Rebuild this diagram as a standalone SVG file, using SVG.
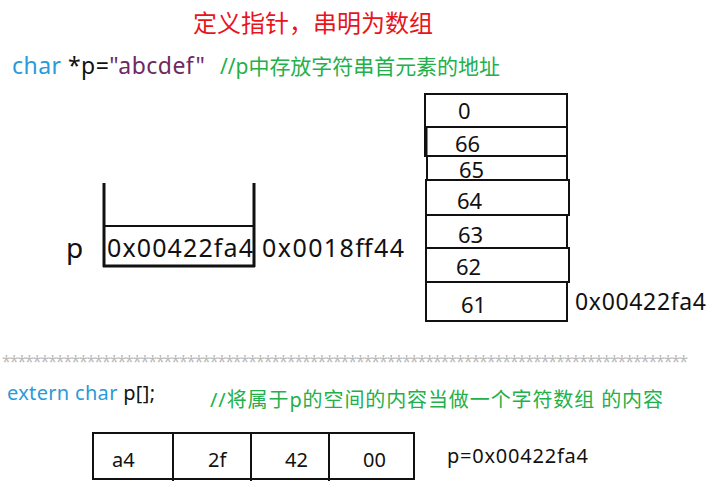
<svg xmlns="http://www.w3.org/2000/svg" width="716" height="500" viewBox="0 0 716 500">
<style>
text{font-family:"Noto Sans","Noto Sans CJK SC",sans-serif;}
.t{fill:#111;}
.blue{fill:#2a9ad8;}
.green{fill:#22b04a;}
.purple{fill:#6e2a5f;}
.box{fill:none;stroke:#111;stroke-width:2;}
.thick{stroke:#111;stroke-width:3;fill:none;}
</style>
<rect width="716" height="500" fill="#fff"/>
<g id="title">
<text x="193" y="32" font-size="24" fill="#e8141b" font-family="Noto Sans CJK SC, sans-serif">定义指针，串明为数组</text>
</g>
<g id="code1">
<text x="12" y="74" font-size="23" textLength="193"><tspan class="blue">char</tspan><tspan class="t"> *p=</tspan><tspan class="purple">"abcdef"</tspan></text>
<text x="220" y="74" font-size="21" class="green" textLength="280">//p中存放字符串首元素的地址</text>
</g>
<g id="pointer-box">
<line class="thick" x1="104" y1="183" x2="104" y2="267"/>
<line class="thick" x1="254" y1="183" x2="254" y2="267"/>
<line x1="104" y1="226" x2="254" y2="226" stroke="#111" stroke-width="2"/>
<line class="thick" x1="103" y1="266" x2="255" y2="266"/>
<text x="66" y="258" font-size="28" class="t">p</text>
<text x="107" y="257" font-size="25" class="t" textLength="146">0x00422fa4</text>
<text x="262" y="257" font-size="25" class="t" textLength="142">0x0018ff44</text>
</g>
<g id="string-stack">
<rect class="box" x="425" y="94" width="142" height="33"/>
<rect class="box" x="425" y="127" width="142" height="29"/>
<line x1="426" y1="127" x2="426" y2="156" stroke="#111" stroke-width="3"/>
<rect class="box" x="427" y="156" width="140" height="24"/>
<rect class="box" x="426" y="180" width="143" height="35"/>
<rect class="box" x="426" y="215" width="141" height="33"/>
<rect class="box" x="426" y="248" width="143" height="34"/>
<rect class="box" x="426" y="282" width="141" height="39"/>
<text x="458" y="119" font-size="22" class="t">0</text>
<text x="455" y="152" font-size="22" class="t">66</text>
<text x="459" y="178" font-size="22" class="t">65</text>
<text x="457" y="209" font-size="22" class="t">64</text>
<text x="458" y="243" font-size="22" class="t">63</text>
<text x="456" y="275" font-size="22" class="t">62</text>
<text x="461" y="313" font-size="22" class="t">61</text>
<text x="575" y="310" font-size="23" class="t" textLength="131">0x00422fa4</text>
</g>
<g id="separator">
<text x="2" y="367" font-size="16" fill="#bbbbbb" textLength="686" font-family="Liberation Sans, sans-serif">*****************************************************************************************</text>
</g>
<g id="code2">
<text x="7" y="400" font-size="20" textLength="148"><tspan class="blue">extern char </tspan><tspan class="t">p[];</tspan></text>
<text x="210" y="407" font-size="20" class="green" textLength="453">//将属于p的空间的内容当做一个字符数组 的内容</text>
</g>
<g id="byte-array">
<rect class="box" x="93" y="433" width="321" height="46"/>
<line x1="173" y1="433" x2="173" y2="481" stroke="#111" stroke-width="2"/>
<line x1="251" y1="433" x2="251" y2="481" stroke="#111" stroke-width="2"/>
<line x1="329" y1="433" x2="329" y2="481" stroke="#111" stroke-width="2"/>
<text x="112" y="467" font-size="20" class="t">a4</text>
<text x="208" y="467" font-size="20" class="t">2f</text>
<text x="285" y="467" font-size="20" class="t">42</text>
<text x="363" y="467" font-size="20" class="t">00</text>
<text x="447" y="463" font-size="20" class="t" textLength="141">p=0x00422fa4</text>
</g>
</svg>
